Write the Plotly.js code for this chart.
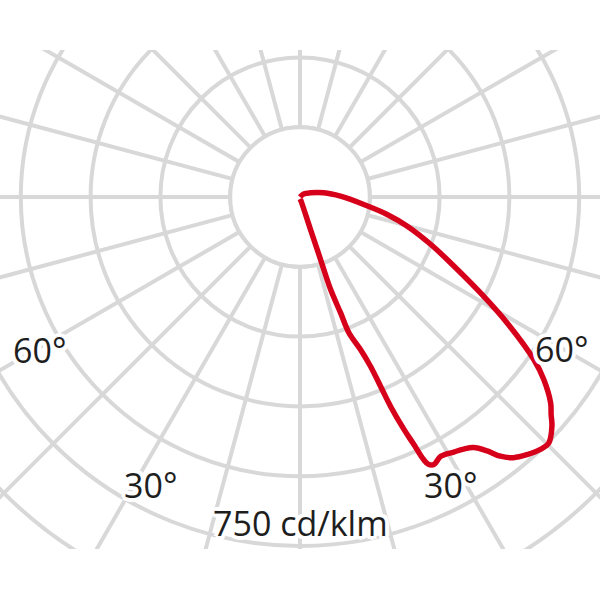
<!DOCTYPE html>
<html>
<head>
<meta charset="utf-8">
<script src="https://cdn.plot.ly/plotly-3.0.1.min.js"></script>
<style>
  html, body { margin: 0; padding: 0; background: #ffffff; }
  #page { position: relative; width: 600px; height: 600px; background: #ffffff; overflow: hidden; }
  #clip { position: absolute; left: 0; top: 50px; width: 600px; height: 499px; overflow: hidden; }
  #chart { position: absolute; left: -200px; top: -353px; width: 1000px; height: 1000px; }
</style>
</head>
<body>
<div id="page"><div id="clip"><div id="chart"></div></div></div>
<script>
// Luminous intensity distribution (cd/klm), angle 0° = straight down, positive = right
const angles = [0, 10, 16, 17.9, 18.2, 18.3, 19.3, 19.8, 21.6, 22.6, 23.05, 23.4, 24.1, 24.7, 25.2, 25.7, 26.6,
  28.5, 31.1, 33.0, 34.7, 36.4, 37.7, 39.3, 41.4, 43.6, 45.3, 47.7, 49.1, 50.6, 53.2, 55.2, 58.7,
  61.6, 65.8, 70.0, 74.8, 78.7, 83.3, 91.1, 100, 111.8, 130, 180];
const intensity = [4, 6, 12, 73, 141, 209, 264, 310, 352, 394, 442, 491, 547, 585, 623, 638, 643,
  634, 640, 646, 655, 678, 704, 724, 738, 749, 752, 732, 714, 697, 654, 612, 521,
  449, 363, 300, 239, 191, 138, 87, 52, 24, 10, 0];

// Radial grid circles (cd/klm)
const ringValues = [150, 300, 450, 600, 750, 900, 1050];
const innerRing = [150];
const radialMax = 1074.5;

// Labels
const angleLabels = ['60°', '60°', '30°', '30°'];
const scaleLabel = '750 cd/klm';

const grid = '#d8d8d8';
const halo = '#fff -3px -3px 0, #fff 3px -3px 0, #fff -3px 3px 0, #fff 3px 3px 0, #fff 0 -4px 0, #fff 0 4px 0, #fff -4px 0 0, #fff 4px 0 0';

const traces = [
  {
    type: 'barpolar', r: innerRing, theta: [0], width: [360], base: 0,
    marker: { color: '#ffffff', line: { color: grid, width: 4 } },
    hoverinfo: 'skip'
  },
  {
    type: 'scatterpolar', mode: 'lines', r: intensity, theta: angles,
    line: { color: '#d7001b', width: 5.5, shape: 'spline', smoothing: 1 },
    hoverinfo: 'skip'
  }
];

function px(x) { return (x + 200) / 1000; }
function py(y) { return 1 - (y + 303) / 1000; }
const labelFont = { family: 'Open Sans', size: 34, color: '#1e1e1e', shadow: halo };
const labelPos = [[39, 350], [561.5, 349], [150, 484.5], [450.5, 484.5]];
const annotations = angleLabels.map((t, i) => ({
  text: t, x: px(labelPos[i][0]), y: py(labelPos[i][1]), xref: 'paper', yref: 'paper',
  xanchor: 'center', yanchor: 'middle', showarrow: false, font: labelFont
}));
annotations.push({
  text: scaleLabel, x: px(300), y: py(523), xref: 'paper', yref: 'paper',
  xanchor: 'center', yanchor: 'middle', showarrow: false, font: labelFont
});

const layout = {
  width: 1000, height: 1000,
  margin: { l: 0, r: 0, t: 0, b: 0, pad: 0 },
  paper_bgcolor: '#ffffff',
  showlegend: false,
  polar: {
    domain: { x: [0, 1], y: [0, 1] },
    bgcolor: '#ffffff',
    radialaxis: {
      range: [0, radialMax], tickmode: 'array', tickvals: ringValues,
      showticklabels: false, ticks: '', showline: false,
      gridcolor: grid, gridwidth: 4
    },
    angularaxis: {
      rotation: -90, direction: 'counterclockwise',
      tickmode: 'linear', tick0: 0, dtick: 15,
      showticklabels: false, ticks: '', showline: false,
      gridcolor: grid, gridwidth: 4
    }
  },
  annotations: annotations
};

Plotly.newPlot('chart', traces, layout, { displayModeBar: false, staticPlot: true });
</script>
</body>
</html>
